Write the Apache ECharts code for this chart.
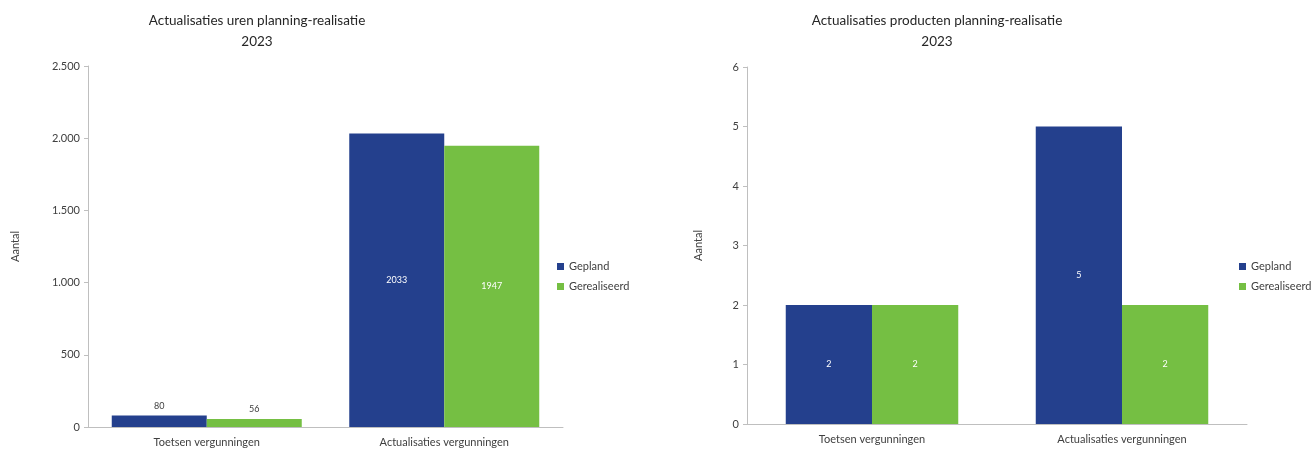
<!DOCTYPE html>
<html><head><meta charset="utf-8">
<script src="https://cdn.jsdelivr.net/npm/echarts@6/dist/echarts.min.js"></script>
<style>html,body{margin:0;padding:0;background:#fff}#c{width:1314px;height:450px}</style>
</head><body><div id="c"></div>
<script>
const categories = ['Toetsen vergunningen', 'Actualisaties vergunningen'];
const seriesNames = ['Gepland', 'Gerealiseerd'];
const urenGepland = [80, 2033];
const urenGerealiseerd = [56, 1947];
const productenGepland = [2, 5];
const productenGerealiseerd = [2, 2];
const title1 = 'Actualisaties uren planning-realisatie\n2023';
const title2 = 'Actualisaties producten planning-realisatie\n2023';
const yName = 'Aantal';

const FONT = 'Lato';
const TXT = '#404040';
const BLUE = '#24408D';
const GREEN = '#75BF43';
const AX = '#BFBFBF';

function fmt(v){ return String(v).replace(/\B(?=(\d{3})+(?!\d))/g, '.'); }

function yAxis(gi, max, interval, gap){
  return {
    type:'value', gridIndex:gi, min:0, max:max, interval:interval,
    name:yName, nameLocation:'middle', nameRotate:90, nameGap:gap,
    nameTextStyle:{color:TXT, fontFamily:FONT, fontSize:11},
    axisLine:{show:true, lineStyle:{color:AX, width:1}},
    axisTick:{show:true, length:4, lineStyle:{color:AX}},
    splitLine:{show:false},
    axisLabel:{color:TXT, fontFamily:FONT, fontSize:11, margin:8, formatter:fmt}
  };
}
function xAxis(gi){
  return {
    type:'category', gridIndex:gi, data:categories,
    axisLine:{show:true, lineStyle:{color:AX, width:1}},
    axisTick:{show:false},
    axisLabel:{color:TXT, fontFamily:FONT, fontSize:11, margin:10}
  };
}
function barSeries(name, values, gi, color, catGap, smallThreshold){
  return {
    type:'bar', name:name, xAxisIndex:gi, yAxisIndex:gi,
    barGap:'0%', barCategoryGap:catGap,
    itemStyle:{color:color},
    data: values.map(v => {
      const outside = v < smallThreshold;
      return {
        value:v,
        label:{show:true, position: outside ? 'top' : 'inside',
               color: outside ? TXT : '#ffffff', fontFamily:FONT, fontSize:9}
      };
    })
  };
}

const chart = echarts.init(document.getElementById('c'), null, {renderer:'canvas'});
chart.setOption({
  animation:false,
  backgroundColor:'#ffffff',
  title:[
    {text:title1, left:252, top:5, textAlign:'center',
     textStyle:{color:'#262626', fontFamily:FONT, fontSize:13.5, fontWeight:'normal', lineHeight:21}},
    {text:title2, left:932, top:5, textAlign:'center',
     textStyle:{color:'#262626', fontFamily:FONT, fontSize:13.5, fontWeight:'normal', lineHeight:21}}
  ],
  legend:[
    {data:seriesNames, orient:'vertical', left:552, top:256, itemWidth:7, itemHeight:7, itemGap:9,
     icon:'rect', textStyle:{color:TXT, fontFamily:FONT, fontSize:11}},
    {data:seriesNames, orient:'vertical', left:1234, top:256, itemWidth:7, itemHeight:7, itemGap:9,
     icon:'rect', textStyle:{color:TXT, fontFamily:FONT, fontSize:11}}
  ],
  grid:[
    {left:88, right:751, top:66, bottom:23},
    {left:747, right:67, top:67, bottom:26}
  ],
  xAxis:[xAxis(0), xAxis(1)],
  yAxis:[yAxis(0, 2500, 500, 67), yAxis(1, 6, 1, 43)],
  series:[
    barSeries(seriesNames[0], urenGepland, 0, BLUE, '20%', 500),
    barSeries(seriesNames[1], urenGerealiseerd, 0, GREEN, '20%', 500),
    barSeries(seriesNames[0], productenGepland, 1, BLUE, '31%', 0),
    barSeries(seriesNames[1], productenGerealiseerd, 1, GREEN, '31%', 0)
  ]
});
</script></body></html>
